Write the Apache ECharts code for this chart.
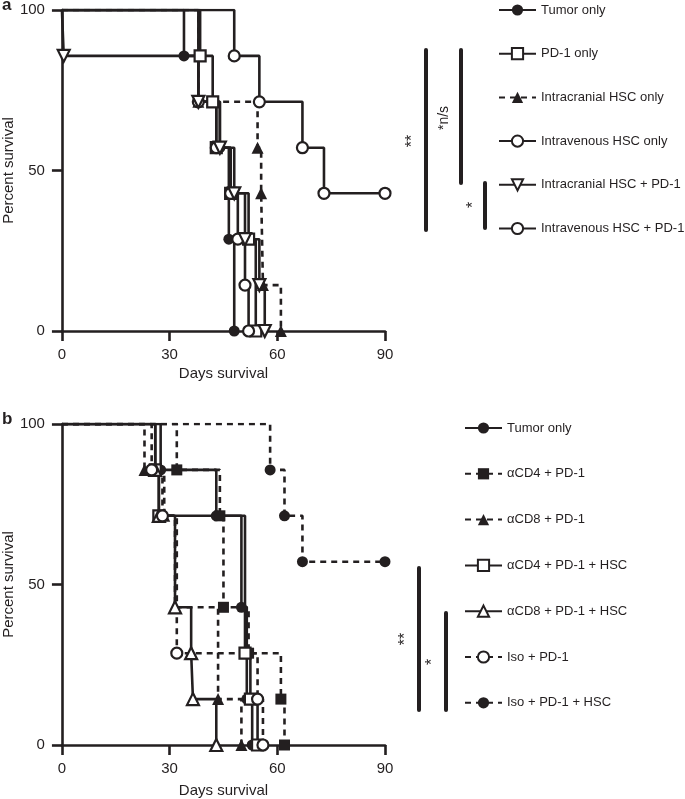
<!DOCTYPE html>
<html lang="en">
<head>
<meta charset="UTF-8">
<title>Survival curves</title>
<style>
  html, body { margin: 0; padding: 0; background: #fff; }
  #chart { width: 685px; height: 799px; }
</style>
<script src="https://cdn.jsdelivr.net/npm/echarts@6/dist/echarts.min.js"></script>
</head>
<body>
<div id="chart"></div>
<script>
// ---- data: [day, percent survival] at each event ----
const xTicks = [0, 30, 60, 90];
const yTicks = [0, 50, 100];

// panel a
const aNames = ['Tumor only', 'PD-1 only', 'Intracranial HSC only', 'Intravenous HSC only',
                'Intracranial HSC + PD-1', 'Intravenous HSC + PD-1'];
const aTumor   = [[0, 100], [34, 85.7], [38, 71.4], [44, 57.1], [46.5, 28.6], [48, 0]];
const aPD1     = [[0, 100], [38.5, 85.7], [42, 71.4], [43, 57.1], [47, 42.9], [52, 28.6], [54, 0]];
const aIcHsc   = [[0, 100], [38, 71.4], [54.5, 57.1], [55.5, 42.9], [56, 14.3], [61, 0]];
const aIvHsc   = [[0, 100], [38, 71.4], [43, 57.1], [47, 42.9], [49, 28.6], [51, 14.3], [52, 0]];
const aIcHscPD = [[0, 100], [0.5, 85.7], [38, 71.4], [44, 57.1], [48, 42.9], [51, 28.6], [55, 14.3], [56.5, 0]];
const aIvHscPD = [[0, 100], [48, 85.7], [55, 71.4], [67, 57.1], [73, 42.9], [90, 42.9]];

// panel b
const bNames = ['Tumor only', '\u03b1CD4 + PD-1', '\u03b1CD8 + PD-1', '\u03b1CD4 + PD-1 + HSC',
                '\u03b1CD8 + PD-1 + HSC', 'Iso + PD-1', 'Iso + PD-1 + HSC'];
const bTumor    = [[0, 100], [27.5, 85.7], [43, 71.4], [50, 42.9], [51.5, 14.3], [53, 0]];
const bCD4      = [[0, 100], [32, 85.7], [44, 71.4], [45, 42.9], [52, 28.6], [61, 14.3], [62, 0]];
const bCD8      = [[0, 100], [23, 85.7], [28.5, 71.4], [31.5, 42.9], [43.5, 14.3], [50, 0]];
const bCD4Hsc   = [[0, 100], [26, 85.7], [27, 71.4], [51, 28.6], [52.5, 14.3], [54.5, 0]];
const bCD8Hsc   = [[0, 100], [26, 85.7], [27, 71.4], [31.5, 42.9], [36, 28.6], [36.5, 14.3], [43, 0]];
const bIso      = [[0, 100], [25, 85.7], [28, 71.4], [32, 28.6], [54.5, 14.3], [56, 0]];
const bIsoHsc   = [[0, 100], [58, 85.7], [62, 71.4], [67, 57.1], [90, 57.1]];

const ink = '#231f20';
const font = "'Liberation Sans', Arial, sans-serif";

function km(name, pts, g, symbol, filled, dashed, rotate) {
  return {
    name: name,
    type: 'line',
    step: 'end',
    xAxisIndex: g,
    yAxisIndex: g,
    data: pts.map((p, i) => i === 0 ? { value: p, symbolSize: 0 } : { value: p }),
    symbol: symbol,
    symbolSize: symbol === 'triangle' ? 12 : 11,
    symbolRotate: rotate || 0,
    showAllSymbol: true,
    lineStyle: { color: ink, width: 2.6, type: dashed ? [6, 5] : 'solid' },
    itemStyle: { color: filled ? ink : '#fff', borderColor: ink, borderWidth: filled ? 0 : 2.2 },
    emphasis: { disabled: true },
    animation: false
  };
}

function xAxis(g, gap) {
  return {
    gridIndex: g, type: 'value', min: 0, max: 90, interval: 30,
    name: 'Days survival', nameLocation: 'middle', nameGap: gap,
    nameTextStyle: { fontSize: 15, color: ink, fontFamily: font },
    axisLine: { lineStyle: { color: ink, width: 2.6 } },
    axisTick: { length: 10, lineStyle: { color: ink, width: 2.6 } },
    axisLabel: { fontSize: 15, color: ink, margin: 16, fontFamily: font },
    splitLine: { show: false }
  };
}
function yAxis(g) {
  return {
    gridIndex: g, type: 'value', min: 0, max: 100, interval: 50,
    name: 'Percent survival', nameLocation: 'middle', nameGap: 45,
    nameTextStyle: { fontSize: 15, color: ink, fontFamily: font },
    axisLine: { show: true, lineStyle: { color: ink, width: 2.6 } },
    axisTick: { show: true, length: 10, lineStyle: { color: ink, width: 2.6 } },
    axisLabel: { fontSize: 15, color: ink, margin: 17, fontFamily: font },
    splitLine: { show: false }
  };
}

function bar(x, y1, y2) {
  return { type: 'line', shape: { x1: x, y1: y1, x2: x, y2: y2 },
           style: { stroke: ink, lineWidth: 4, lineCap: 'round' } };
}
function vtext(x, y, t, size) {
  return { type: 'text', x: x, y: y, rotation: Math.PI / 2,
           style: { text: t, fill: ink, fontSize: size, fontFamily: font, align: 'center', verticalAlign: 'middle' } };
}

const chart = echarts.init(document.getElementById('chart'));
chart.setOption({
  animation: false,
  textStyle: { fontFamily: font, color: ink },
  grid: [
    { left: 61, top: 10, width: 324, height: 321 },
    { left: 61, top: 424, width: 324, height: 322 }
  ],
  xAxis: [xAxis(0, 35), xAxis(1, 38)],
  yAxis: [yAxis(0), yAxis(1)],
  legend: [
    { data: aNames, orient: 'vertical', left: 498, top: 3, padding: 0,
      itemWidth: 37, itemHeight: 14, itemGap: 29.7, selectedMode: false,
      textStyle: { fontSize: 13, color: ink, lineHeight: 14, fontFamily: font } },
    { data: bNames, orient: 'vertical', left: 464, top: 421, padding: 0,
      itemWidth: 37, itemHeight: 14, itemGap: 31.8, selectedMode: false,
      textStyle: { fontSize: 13, color: ink, lineHeight: 14, fontFamily: font } }
  ],
  series: [
    km(aNames[0], aTumor, 0, 'circle', true, false),
    km(aNames[1], aPD1, 0, 'rect', false, false),
    km(aNames[2], aIcHsc, 0, 'triangle', true, true),
    km(aNames[3], aIvHsc, 0, 'circle', false, false),
    km(aNames[4], aIcHscPD, 0, 'triangle', false, false, 180),
    km(aNames[5], aIvHscPD, 0, 'circle', false, false),

    km(bNames[0], bTumor, 1, 'circle', true, false),
    km(bNames[1], bCD4, 1, 'rect', true, true),
    km(bNames[2], bCD8, 1, 'triangle', true, true),
    km(bNames[3], bCD4Hsc, 1, 'rect', false, false),
    km(bNames[4], bCD8Hsc, 1, 'triangle', false, false),
    km(bNames[5], bIso, 1, 'circle', false, true),
    km(bNames[6], bIsoHsc, 1, 'circle', true, true)
  ],
  graphic: [
    { type: 'text', x: 2, y: 5.5, style: { text: 'a', fontSize: 17, fontWeight: 'bold', fill: ink, fontFamily: font, verticalAlign: 'middle' } },
    { type: 'text', x: 2, y: 419, style: { text: 'b', fontSize: 17, fontWeight: 'bold', fill: ink, fontFamily: font, verticalAlign: 'middle' } },
    // panel a significance
    bar(426, 50, 230), vtext(413, 141, '**', 16),
    bar(461, 50, 183), vtext(444, 118, '*n/s', 14),
    bar(485, 183, 228), vtext(474, 205, '*', 16),
    // panel b significance
    bar(419, 568, 710), vtext(406, 639, '**', 16),
    bar(446, 613, 710), vtext(433, 662, '*', 16)
  ]
});
</script>
</body>
</html>
